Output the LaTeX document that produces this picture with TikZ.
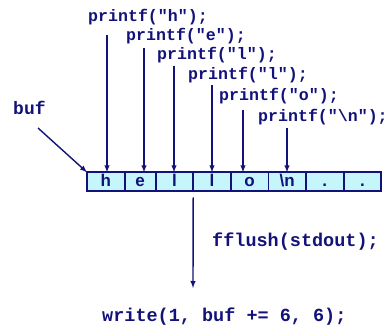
\documentclass[tikz,border=0pt]{standalone}
\usepackage{fontspec}
\setmainfont{Liberation Sans}
\setsansfont{Liberation Sans}
\setmonofont{Liberation Mono}
\usetikzlibrary{positioning}
\definecolor{navy}{HTML}{12127A}
\definecolor{bufcyan}{HTML}{C4F6FC}
\begin{document}
\begin{tikzpicture}[x=1pt, y=-1pt, >=latex, node distance=0pt,
    cell/.style={draw=navy, fill=bufcyan, line width=1.8pt, outer sep=0pt, inner sep=0pt, minimum width=37.6pt, minimum height=19pt, text height=13pt, text depth=3pt, font=\sffamily\bfseries\fontsize{17}{17}\selectfont, text=navy},
    call/.style={anchor=west, inner sep=0pt, font=\ttfamily\bfseries\fontsize{16.6}{16.6}\selectfont, text=navy},
    arr/.style={->, draw=navy, line width=1.4pt}]
    \useasboundingbox (0,0) rectangle (388,326);
    % the buffer
    \node[cell] (c1) at (105.8,181.8) {h};
    \node[cell, minimum width=31pt, right=of c1] (c2) {e};
    \node[cell, right=of c2] (c3) {l};
    \node[cell, right=of c3] (c4) {l};
    \node[cell, right=of c4] (c5) {o};
    \node[cell, right=of c5] (c6) {\textbackslash n};
    \node[cell, right=of c6] (c7) {.};
    \node[cell, right=of c7] (c8) {.};
    % the calls
    \node[call] (ph) at (88,17) {printf("h");};
    \node[call] (pe) at (126,36) {printf("e");};
    \node[call] (pl1) at (157,55) {printf("l");};
    \node[call] (pl2) at (188,75) {printf("l");};
    \node[call] (po) at (219,96) {printf("o");};
    \node[call] (pn) at (258,117) {printf("\textbackslash n");};
    \node[call, font=\ttfamily\bfseries\fontsize{18}{18}\selectfont] (buf) at (13,108) {buf};
    \node[call, font=\ttfamily\bfseries\fontsize{18.5}{18.5}\selectfont] (flush) at (212,242) {fflush(stdout);};
    \node[call, font=\ttfamily\bfseries\fontsize{18.5}{18.5}\selectfont] (write) at (102,317) {write(1, buf += 6, 6);};
    % arrow ends
    \coordinate (th) at (107,35);
    \coordinate (te) at (144,48);
    \coordinate (tl1) at (174,66);
    \coordinate (tl2) at (212,85);
    \coordinate (to) at (243,110);
    \coordinate (tn) at (287,128);
    \coordinate (tbuf) at (38,128);
    \coordinate (tflush) at (193,288);
    \draw[arr] (th) -- (th |- c1.north);
    \draw[arr] (te) -- (te |- c2.north);
    \draw[arr] (tl1) -- (tl1 |- c3.north);
    \draw[arr] (tl2) -- (tl2 |- c4.north);
    \draw[arr] (to) -- (to |- c5.north);
    \draw[arr] (tn) -- (tn |- c6.north);
    \draw[arr] (tbuf) -- (c1.north west);
    \draw[arr] ([yshift=-6pt]c3.south east) -- (tflush);
\end{tikzpicture}
\end{document}
